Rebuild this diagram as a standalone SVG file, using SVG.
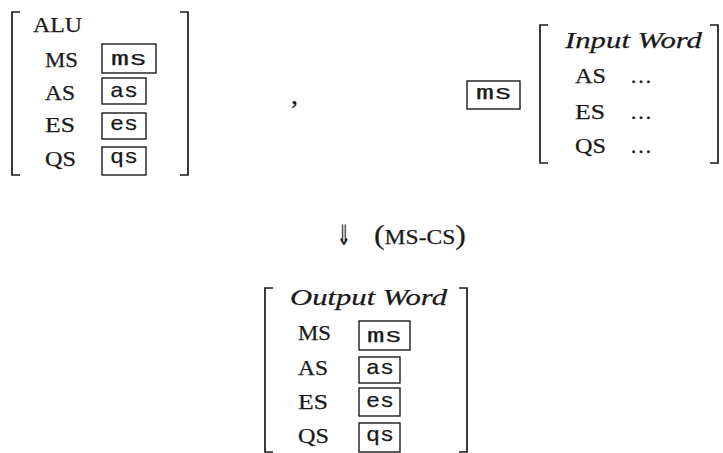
<svg xmlns="http://www.w3.org/2000/svg" width="723" height="453" viewBox="0 0 723 453">
<style>
.br{fill:none;stroke:#1a1a1a;stroke-width:1.7}
.bx{fill:none;stroke:#1a1a1a;stroke-width:1.4}
.lb{font-family:"Liberation Serif","DejaVu Serif",serif;font-size:21px;fill:#1a1a1a;stroke:#1a1a1a;stroke-width:0.25}
.tt{font-family:"Liberation Mono","DejaVu Sans Mono",monospace;font-size:21px;fill:#1a1a1a;stroke:#1a1a1a;stroke-width:0.25}
.it{font-family:"Liberation Serif","DejaVu Serif",serif;font-style:italic;font-size:23px;fill:#1a1a1a;stroke:#1a1a1a;stroke-width:0.25}
</style>
<rect width="723" height="453" fill="#fff"/>
<g id="alu">
<path class="br" d="M20,12 H12 V175 H20"/>
<path class="br" d="M180,12 H188 V175 H180"/>
<text class="lb" x="33" y="32" textLength="49" lengthAdjust="spacingAndGlyphs">ALU</text>
<text class="lb" x="45" y="67" textLength="33" lengthAdjust="spacingAndGlyphs">MS</text>
<text class="lb" x="45" y="100" textLength="30" lengthAdjust="spacingAndGlyphs">AS</text>
<text class="lb" x="45" y="132" textLength="30" lengthAdjust="spacingAndGlyphs">ES</text>
<text class="lb" x="45" y="166" textLength="31" lengthAdjust="spacingAndGlyphs">QS</text>
<rect class="bx" x="102" y="44" width="54" height="29"/>
<rect class="bx" x="102" y="78" width="44" height="26"/>
<rect class="bx" x="102" y="113" width="44" height="26"/>
<rect class="bx" x="102" y="147" width="44" height="28"/>
<text class="tt" x="111" y="65" textLength="36" lengthAdjust="spacingAndGlyphs">ms</text>
<text class="tt" x="110" y="97" textLength="28" lengthAdjust="spacingAndGlyphs">as</text>
<text class="tt" x="110" y="130" textLength="28" lengthAdjust="spacingAndGlyphs">es</text>
<text class="tt" x="110" y="163" textLength="28" lengthAdjust="spacingAndGlyphs">qs</text>
</g>
<g id="comma">
<text class="lb" x="291" y="104" style="font-size:28px">,</text>
</g>
<g id="ms-tag">
<rect class="bx" x="467" y="81" width="53" height="28"/>
<text class="tt" x="476" y="99" textLength="36" lengthAdjust="spacingAndGlyphs">ms</text>
</g>
<g id="input">
<path class="br" d="M548,25 H540 V163 H548"/>
<path class="br" d="M710,25 H718 V163 H710"/>
<text class="it" x="565" y="48" textLength="137" lengthAdjust="spacingAndGlyphs">Input Word</text>
<text class="lb" x="575" y="83" textLength="31" lengthAdjust="spacingAndGlyphs">AS</text>
<text class="lb" x="575" y="119" textLength="30" lengthAdjust="spacingAndGlyphs">ES</text>
<text class="lb" x="575" y="153" textLength="31" lengthAdjust="spacingAndGlyphs">QS</text>
<text class="lb" x="630" y="83" textLength="22" lengthAdjust="spacingAndGlyphs">…</text>
<text class="lb" x="630" y="119" textLength="22" lengthAdjust="spacingAndGlyphs">…</text>
<text class="lb" x="630" y="153" textLength="22" lengthAdjust="spacingAndGlyphs">…</text>
</g>
<g id="connectors">
<text class="lb" x="337" y="245" style="font-size:28px;font-family:'DejaVu Sans',sans-serif" textLength="14" lengthAdjust="spacingAndGlyphs">⇓</text>
<text class="lb" x="374" y="244" style="font-size:27px" textLength="92" lengthAdjust="spacingAndGlyphs">(<tspan style="font-size:20px">MS-CS</tspan>)</text>
</g>
<g id="output">
<path class="br" d="M273,288 H265 V452 H273"/>
<path class="br" d="M459,288 H467 V452 H459"/>
<text class="it" x="290" y="305" textLength="157" lengthAdjust="spacingAndGlyphs">Output Word</text>
<text class="lb" x="298" y="340" textLength="33" lengthAdjust="spacingAndGlyphs">MS</text>
<text class="lb" x="298" y="375" textLength="30" lengthAdjust="spacingAndGlyphs">AS</text>
<text class="lb" x="298" y="409" textLength="30" lengthAdjust="spacingAndGlyphs">ES</text>
<text class="lb" x="298" y="443" textLength="31" lengthAdjust="spacingAndGlyphs">QS</text>
<rect class="bx" x="359" y="321" width="51" height="29"/>
<rect class="bx" x="359" y="357" width="41" height="26"/>
<rect class="bx" x="359" y="388" width="41" height="28"/>
<rect class="bx" x="359" y="423" width="41" height="29"/>
<text class="tt" x="367" y="342" textLength="35" lengthAdjust="spacingAndGlyphs">ms</text>
<text class="tt" x="366" y="374" textLength="28" lengthAdjust="spacingAndGlyphs">as</text>
<text class="tt" x="366" y="407" textLength="28" lengthAdjust="spacingAndGlyphs">es</text>
<text class="tt" x="366" y="441" textLength="28" lengthAdjust="spacingAndGlyphs">qs</text>
</g>
</svg>
